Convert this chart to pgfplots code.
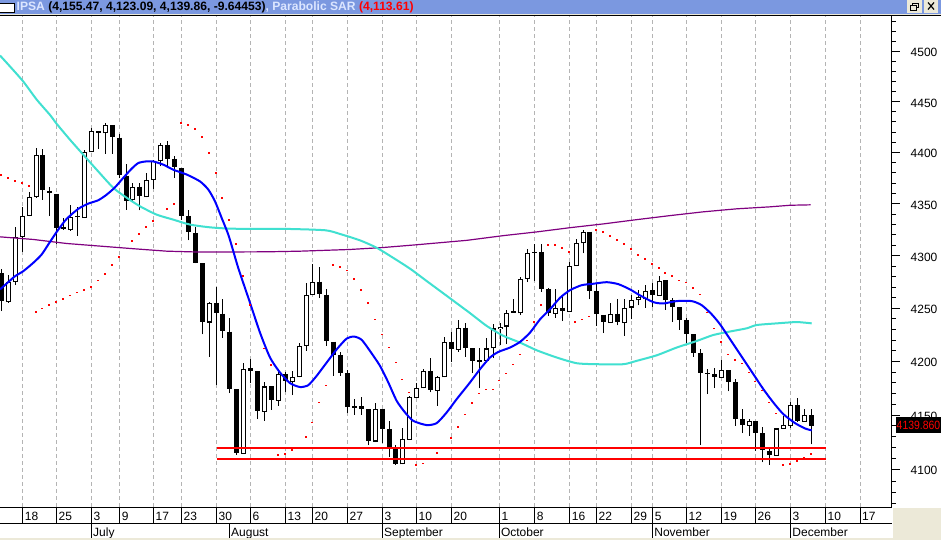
\documentclass[border=0pt]{standalone}
\usepackage{pgfplots}
\usepackage{pgfplotstable}
\usepackage{fontspec}
\setmainfont{Liberation Sans}
\pgfplotsset{compat=1.18}
\definecolor{barblue}{HTML}{7B98E0}
\definecolor{winbeige}{HTML}{ECE9D8}
\definecolor{gridgray}{HTML}{B4B4B4}
\definecolor{smacyan}{HTML}{40E0D0}
\definecolor{smapurple}{HTML}{800080}
\definecolor{titlelight}{HTML}{DCE6FF}
% x = horizontal position of the session on the time axis; o h l c = prices
\pgfplotstableread{
x o h l c
8.3 4255.8 4281.2 4255.5 4275.2
15.3 4274.8 4327.3 4272.0 4318.1
22.3 4318.1 4347.0 4303.8 4338.3
29.3 4338.3 4361.9 4338.0 4356.7
36.3 4356.7 4404.4 4355.8 4397.6
70.3 4324.4 4349.2 4324.1 4337.3
84.3 4336.0 4402.0 4336.0 4400.4
91.3 4400.0 4424.0 4400.0 4421.0
105.3 4418.7 4429.0 4398.8 4427.0
132.3 4353.4 4370.3 4352.4 4366.4
146.3 4356.3 4380.3 4356.3 4373.2
153.3 4373.2 4392.9 4364.5 4391.6
160.3 4391.2 4409.3 4386.4 4407.3
209.3 4236.5 4256.2 4204.3 4255.3
243.3 4114.6 4198.1 4114.6 4193.4
264.3 4153.2 4180.4 4144.8 4176.7
278.3 4163.3 4190.0 4158.8 4187.9
292.3 4181.0 4190.7 4168.6 4185.1
299.3 4185.1 4217.0 4185.1 4214.9
306.0 4214.5 4273.6 4209.8 4262.9
312.3 4262.5 4291.7 4262.5 4275.2
375.0 4125.7 4161.2 4125.1 4156.3
402.5 4104.9 4138.1 4104.9 4127.8
409.5 4127.5 4168.0 4127.5 4166.8
416.5 4166.1 4179.8 4166.1 4174.9
423.5 4174.9 4193.4 4174.9 4191.0
437.0 4172.6 4186.0 4158.8 4185.1
444.0 4185.1 4223.3 4185.1 4218.6
458.0 4210.8 4238.7 4208.9 4231.8
486.0 4200.5 4221.7 4200.5 4212.1
493.0 4212.1 4234.9 4203.0 4230.9
500.0 4230.5 4236.5 4215.1 4232.7
506.5 4232.7 4248.0 4216.1 4245.9
520.5 4245.3 4280.0 4243.6 4278.1
527.3 4278.1 4306.7 4274.8 4302.8
555.5 4245.0 4267.9 4241.2 4250.6
569.0 4246.4 4294.2 4246.4 4290.1
576.0 4290.1 4316.5 4290.1 4312.4
583.0 4312.0 4325.1 4302.2 4322.9
610.0 4236.1 4255.3 4236.1 4245.0
624.5 4236.1 4258.4 4223.9 4250.6
631.0 4250.6 4262.2 4239.6 4258.1
638.0 4257.7 4266.9 4252.7 4261.0
645.0 4258.4 4272.0 4250.6 4266.7
659.7 4261.6 4280.6 4261.6 4276.2
721.3 4184.7 4201.4 4184.7 4191.6
749.3 4140.3 4146.4 4131.1 4144.6
776.3 4112.8 4137.8 4112.8 4137.8
783.3 4137.5 4149.5 4137.5 4140.9
790.3 4140.3 4162.4 4138.4 4159.1
804.3 4143.9 4156.3 4143.9 4150.0
}\upbars
\pgfplotstableread{
x o h l c
1.3 4283.1 4286.9 4247.4 4256.8
42.3 4397.6 4403.7 4354.1 4363.1
49.3 4362.8 4365.8 4338.0 4360.2
56.3 4359.6 4359.6 4310.8 4327.0
63.3 4327.7 4336.3 4325.1 4325.8
77.3 4338.0 4347.0 4319.3 4337.0
98.3 4421.3 4421.3 4403.7 4419.6
112.3 4427.2 4427.2 4398.5 4414.8
119.3 4414.5 4418.4 4375.4 4377.7
126.3 4377.4 4389.0 4344.4 4353.1
139.3 4366.7 4370.3 4343.7 4357.3
167.3 4407.3 4411.2 4384.8 4393.9
174.3 4393.6 4396.8 4375.4 4385.4
181.3 4384.8 4385.0 4334.7 4338.6
188.3 4338.3 4344.4 4314.8 4322.5
195.3 4321.9 4328.0 4292.6 4292.6
202.3 4292.6 4292.6 4225.5 4237.0
216.3 4255.3 4270.0 4178.2 4245.9
222.3 4245.0 4258.4 4222.4 4228.6
229.3 4228.0 4241.2 4170.5 4174.2
236.3 4174.2 4174.2 4113.7 4115.2
250.3 4193.7 4202.1 4179.5 4191.2
257.3 4190.7 4190.7 4146.4 4154.1
271.3 4176.7 4176.7 4155.0 4164.3
285.3 4187.9 4190.0 4171.1 4181.9
319.0 4275.2 4288.8 4260.0 4263.2
326.0 4262.9 4267.9 4214.5 4219.2
333.0 4218.6 4218.6 4186.6 4205.8
340.0 4205.8 4209.2 4186.6 4189.1
347.0 4189.1 4191.9 4152.0 4157.8
354.0 4158.5 4164.9 4150.4 4156.9
361.0 4158.5 4167.1 4150.4 4156.3
368.0 4155.7 4155.7 4122.6 4126.3
382.0 4156.3 4156.3 4124.4 4137.2
389.7 4137.2 4144.3 4111.3 4120.7
395.7 4120.4 4122.6 4104.6 4105.2
430.0 4191.0 4203.7 4171.1 4173.6
451.0 4218.6 4228.0 4199.6 4211.4
465.0 4231.8 4236.5 4204.3 4212.6
472.3 4212.1 4212.1 4189.1 4200.5
479.0 4201.2 4212.3 4174.9 4199.6
513.5 4247.1 4258.4 4245.9 4245.9
534.0 4304.0 4310.8 4275.8 4302.4
541.0 4303.8 4310.8 4265.7 4268.6
548.5 4267.9 4268.9 4242.7 4245.9
562.5 4250.6 4262.2 4238.0 4247.4
589.5 4323.2 4323.2 4258.4 4266.3
596.5 4266.0 4272.6 4233.3 4244.3
603.5 4244.0 4244.0 4226.4 4237.0
617.0 4245.0 4259.1 4234.0 4236.8
652.0 4266.9 4274.3 4251.2 4262.2
665.0 4276.5 4276.5 4248.3 4257.5
672.0 4257.5 4259.4 4237.0 4251.2
679.0 4250.9 4250.9 4229.5 4238.9
686.7 4238.9 4240.5 4217.7 4225.5
693.3 4225.5 4225.5 4204.6 4207.7
700.3 4207.7 4211.4 4122.6 4189.1
707.3 4189.1 4192.8 4169.5 4188.2
714.3 4188.2 4193.7 4175.2 4185.6
728.3 4191.6 4191.6 4172.0 4181.0
735.3 4180.4 4183.5 4140.3 4146.7
742.3 4146.4 4155.7 4133.5 4141.2
755.3 4144.6 4144.6 4117.3 4133.8
762.3 4133.5 4138.8 4106.7 4117.7
769.3 4117.1 4119.8 4104.6 4113.4
797.3 4159.4 4165.8 4143.9 4144.8
811.3 4150.0 4155.47 4123.09 4139.86
}\downbars
% one session of a table: wick, then body
\newcommand\onecandle[3]{%
  \pgfplotstablegetelem{#1}{x}\of#2\let\cX\pgfplotsretval
  \pgfplotstablegetelem{#1}{o}\of#2\let\cO\pgfplotsretval
  \pgfplotstablegetelem{#1}{h}\of#2\let\cH\pgfplotsretval
  \pgfplotstablegetelem{#1}{l}\of#2\let\cL\pgfplotsretval
  \pgfplotstablegetelem{#1}{c}\of#2\let\cC\pgfplotsretval
  \edef\cplot{\noexpand\addplot[black,line width=1pt,forget plot] coordinates {(\cX,\cL)(\cX,\cH)};
    \noexpand\addplot[black,line width=5pt,forget plot] coordinates {(\cX,\cO)(\cX,\cC)};}%
  \cplot
  \ifnum#3=1
    \pgfmathsetmacro\cOi{\cO+1}\pgfmathsetmacro\cCi{\cC-1}%
    \edef\cplot{\noexpand\addplot[white,line width=3pt,forget plot] coordinates {(\cX,\cOi)(\cX,\cCi)};}%
    \cplot
  \fi}
\begin{document}
\begin{tikzpicture}[x=1pt,y=1pt]
\path[use as bounding box,fill=white] (0,0) rectangle (941,540);
\begin{axis}[
  at={(0pt,33pt)},anchor=south west,
  scale only axis,width=891.5pt,height=491pt,
  xmin=0,xmax=891.5,
  y coord trafo/.code={\pgfmathparse{ln(#1)*1000}},
  ymin=4066.8,ymax=4535.8,
  axis line style={draw=none},
  axis y line*=right,
  ytick={4100,4150,4200,4250,4300,4350,4400,4450,4500},
  yticklabels={4100,4150,4200,4250,4300,4350,4400,4450,4500},
  minor ytick={4070,4080,4090,4110,4120,4130,4140,4160,4170,4180,4190,4210,4220,4230,4240,4260,4270,4280,4290,4310,4320,4330,4340,4360,4370,4380,4390,4410,4420,4430,4440,4460,4470,4480,4490,4510,4520,4530},
  ytick style={black,line width=1pt},
  major tick length=8pt,minor tick length=4pt,
  tick align=outside,
  yticklabel style={font=\fontsize{12}{14}\selectfont,xshift=11pt,yshift=-1.2pt,inner sep=0pt,anchor=west},
  xtick={22.7,56.5,91.5,119.7,153.5,181.5,216.5,250.5,285.5,312.5,347.5,382.5,416.5,451.5,499.3,534.7,569.7,596.5,631.5,652.7,686.5,721.5,755.5,790.5,825.5,860},
  xticklabels={18,25,3,9,17,23,30,6,13,20,27,3,10,20,1,8,16,22,29,5,12,19,26,3,10,17},
  xtick style={draw=none},
  xticklabel style={font=\fontsize{12}{14}\selectfont,anchor=north west,inner sep=0pt,xshift=2pt,yshift=3.2pt},
  xmajorgrids,
  grid style={gridgray,line width=0.9pt,dash pattern=on 4pt off 3pt},
]
\pgfplotsinvokeforeach{0,...,66}{\onecandle{#1}{\downbars}{0}}
\pgfplotsinvokeforeach{0,...,50}{\onecandle{#1}{\upbars}{1}}
% long average
\addplot[smapurple,line width=1.2pt,forget plot] coordinates {
(0,4318.1)(33.3,4315.5)(66.7,4311.7)(100,4309.2)(133.3,4306.7)(166.7,4304.4)(200,4303.4)(266.7,4303.8)(300,4304.4)(350,4306)(383.3,4307.9)(416.7,4310.5)(466.7,4314.8)(503.3,4319.3)(536.7,4322.9)(570,4327)(603.3,4330.6)(636.7,4334.7)(670,4338.6)(703.3,4342.2)(736.7,4345.1)(770,4347)(790,4348.6)(810.7,4349)};
% medium average
\addplot[smacyan,line width=2pt,forget plot,smooth,tension=0.4] coordinates {
(0,4496)(10,4485)(23.3,4470)(36.7,4452)(50,4437)(56.7,4428)(70,4412.5)(83.3,4397.8)(96.7,4383.2)(113.3,4365.5)(126.7,4355.8)(140,4347.6)(156.7,4339.5)(173.3,4334.7)(190,4329.9)(210,4327.3)(233.3,4326)(283.3,4325.8)(325,4324.4)(340,4320.9)(360,4314.8)(376.7,4307.6)(393.3,4298)(410,4287.6)(426.7,4275.8)(443.3,4264.1)(469.3,4245.9)(486.7,4233.3)(503.3,4223.9)(520,4217.7)(536.7,4210.5)(556.7,4203.7)(576.7,4198.4)(596.7,4197.5)(623.3,4197.5)(636.7,4200.5)(656.7,4205.8)(676.7,4213)(696.7,4219.2)(713.3,4224.8)(730,4228)(746.7,4231.1)(756.7,4234.2)(776.7,4235.8)(796.7,4237)(811.7,4235.8)};
% short average
\addplot[blue,line width=2pt,forget plot,smooth,tension=0.4] coordinates {
(0,4267.9)(6.7,4273.6)(15,4280.5)(23.3,4285.3)(33.3,4293.2)(41.7,4301.2)(50,4313.3)(58.3,4325.1)(66.7,4335.4)(78.3,4345.1)(88.3,4350.2)(98.3,4353.4)(106.7,4358.9)(115,4366)(123.3,4375.2)(131.7,4384.2)(138.3,4389.7)(145.7,4391.2)(153.3,4391.2)(163.3,4388)(173.3,4383.2)(186.7,4378.4)(200,4371.8)(208.3,4363.8)(215,4352.4)(221.7,4336.3)(228.3,4320.3)(233.3,4304.4)(238.7,4286.9)(250,4255.3)(260,4227.1)(270,4203.7)(280,4189.7)(290,4179.8)(300,4176.1)(308.3,4177.9)(316.7,4186.6)(326.7,4199)(336.7,4211.4)(346.7,4221.5)(354.3,4223.3)(361.7,4220.1)(370,4209.8)(380,4195.9)(388.3,4180.4)(396.7,4163.3)(405,4152.6)(413.3,4144.8)(426.7,4140.9)(436.7,4142.7)(446.7,4152.6)(456.7,4164.9)(470,4180.4)(480,4192.8)(490,4203.7)(498.3,4208.9)(510,4213)(520,4218.2)(530,4227.1)(540,4239.6)(550,4249)(560,4260)(570,4267.2)(581.7,4272)(593.3,4273.3)(606.7,4274.8)(618.3,4272.9)(630,4267.9)(640,4262.2)(653.3,4255.8)(663.3,4254.6)(676.7,4256.8)(691.7,4256.8)(701.7,4252.8)(711.7,4244.3)(720,4234.9)(730,4220.8)(740,4206.8)(753.3,4188.2)(763.3,4174.2)(773.3,4161.8)(783.3,4151)(795,4142.7)(805,4137.8)(811.7,4136)};
% support lines
\addplot[red,line width=2pt,forget plot] coordinates {(216.5,4120.2)(825.7,4120.2)};
\addplot[red,line width=2pt,forget plot] coordinates {(216.5,4110.0)(825.7,4110.0)};
% Parabolic SAR
\addplot[only marks,red,mark=square*,mark size=0.35pt,mark options={draw=red,fill=red,line width=0pt},forget plot] coordinates {
(1.3,4378)(8.3,4375.2)(15.3,4372.2)(22.3,4370.3)(29.3,4367.4)
(36.3,4246.8)(42.3,4249.7)(49.3,4253.4)(56.3,4256.2)(63.3,4259.1)(70.3,4262)(77.3,4264.8)(84.3,4267.6)(91.3,4270.5)(98.3,4276.2)(105.3,4282.8)(112.3,4291.4)(119.3,4299)(132.3,4314.3)(139.3,4321)(146.3,4327.7)(153.3,4333.5)(167.3,4345.1)(174.3,4349.9)
(181.3,4428.9)(188.3,4426.9)(195.3,4423)(202.3,4415.2)(209.3,4399.5)(216.3,4380)(222.3,4355.8)(229.3,4334.4)(236.3,4311)(243.3,4280.5)(250.3,4252.8)(264.3,4212.1)(271.3,4196.5)
(278.3,4113.2)(285.3,4114.1)(292.3,4117.7)(306.3,4129.6)(312.3,4143.3)(319.3,4161.8)(326.3,4177.6)(333.3,4291.4)(340.3,4289.5)
(347.3,4286)(354.3,4277.4)(361.3,4267.6)(368.3,4255.3)(375.3,4239.3)(382.3,4225.2)(389.3,4213)(396.3,4199)(402.3,4183.2)(409.3,4171.1)
(416.3,4104)(423.3,4105.8)(430.3,4109.5)(437.3,4115)(451.3,4128.7)(458.3,4138.9)(465.3,4150.8)(472.3,4161)(479.3,4170.2)(485.7,4173.9)(492.7,4173.9)(499.3,4182.3)(506.3,4188.8)(513.3,4197.2)(520.3,4206.5)(527.3,4219.6)(534.3,4237.4)(541.3,4252.8)
(548.3,4310.5)(555.3,4310.5)(562.3,4307.6)(569.3,4303.8)
(575.3,4237.4)(582.3,4239.3)(589.3,4242.1)
(596.3,4324.8)(603.3,4322.9)(610.3,4319.1)(617.3,4315.2)(624.3,4311.4)(631.3,4306.7)(638.3,4301)(645.3,4297.1)(652.3,4292.3)(659.3,4288.5)(665.3,4283.7)(672.3,4280.5)(679.3,4276.4)(686.3,4274.3)(693.3,4269.5)(700.3,4262.9)(707.3,4245.9)(714.3,4230.9)(721.3,4218.3)(728.3,4206.5)(735.3,4201.2)(742.3,4198.1)(749.3,4189.7)(755.3,4181.3)(762.3,4173)(769.3,4161.8)(776.3,4151.6)
(783.3,4104)(790.3,4105)(797.3,4107.7)(804.3,4110.7)(811.3,4114.1)};
\end{axis}
% window furniture, in image pixels measured from the top left
\begin{scope}[yshift=540pt,y=-1pt]
  \fill[barblue] (0,0) rectangle (941,14);
  \fill[winbeige] (0,14) rectangle (941,15.3);
  \draw[black,line width=1pt] (0,16) -- (941,16);
  \draw[black,line width=0.9pt,fill=white] (-1,3) rectangle (14.5,12);
  \node[anchor=west,inner sep=0pt,font=\fontsize{12.1}{14}\selectfont\bfseries,text=titlelight] at (16.5,7.3)
    {IPSA \textcolor{black}{(4,155.47, 4,123.09, 4,139.86, -9.64453)}, Parabolic SAR \textcolor{red}{(4,113.61)}};
  \fill[winbeige] (907,0) rectangle (921.7,12.7);
  \fill[winbeige] (924,0) rectangle (938.3,12.7);
  \draw[black,line width=0.7pt] (910,5.5) rectangle (916,10);
  \draw[black,line width=0.7pt] (912.5,5.5) -- (912.5,3) -- (918.5,3) -- (918.5,7.5) -- (916,7.5);
  \draw[black,line width=1.2pt] (928,2.5) -- (934,9.5) (934,2.5) -- (928,9.5);
  % axis frame
  \draw[black,line width=1pt] (891.5,16) -- (891.5,507.3);
  \draw[black,line width=1pt] (0,507.3) -- (891.5,507.3);
  \draw[black,line width=1pt] (0,523.3) -- (891.5,523.3);
  \foreach \p in {22.7,56.5,91.5,119.7,153.5,181.5,216.5,250.5,285.5,312.5,347.5,382.5,416.5,451.5,499.3,534.7,569.7,596.5,631.5,652.7,686.5,721.5,755.5,790.5,825.5,860}
    \draw[black,line width=1pt] (\p,507.3) -- (\p,523.3);
  \foreach \p/\t in {91.5/July,229.5/August,382.5/September,499.3/October,652.7/November,790.7/December}{
    \draw[black,line width=1pt] (\p,523.3) -- (\p,538.3);
    \node[anchor=base west,inner sep=0pt,font=\fontsize{12}{14}\selectfont] at (\p+1.5,536) {\t};
  }
  \fill[winbeige] (0,538.3) rectangle (941,540);
  \fill[winbeige] (892.7,508.3) rectangle (941,540);
  % last price flag
  \fill[black] (896,416.7) rectangle (941,433.3);
  \node[inner sep=0pt,text=red,font=\fontsize{12}{14}\selectfont] at (918.5,425) {\scalebox{0.87}[1]{4139.860}};
\end{scope}
\end{tikzpicture}
\end{document}
